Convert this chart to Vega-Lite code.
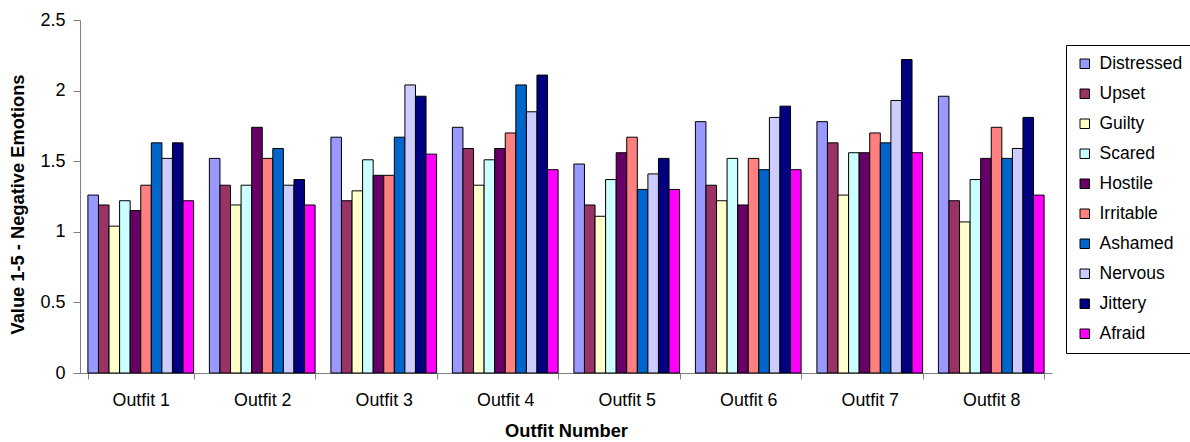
{
  "$schema": "https://vega.github.io/schema/vega-lite/v6.json",
  "autosize": {"type": "none"},
  "padding": {"left": 80, "top": 20, "right": 138, "bottom": 69},
  "width": 972,
  "height": 353,
  "background": "white",
  "config": {
    "font": "Liberation Sans",
    "view": {"stroke": null}
  },
  "data": {
    "values": [
      {"outfit": "Outfit 1", "emotion": "Distressed", "value": 1.26},
      {"outfit": "Outfit 1", "emotion": "Upset", "value": 1.19},
      {"outfit": "Outfit 1", "emotion": "Guilty", "value": 1.04},
      {"outfit": "Outfit 1", "emotion": "Scared", "value": 1.22},
      {"outfit": "Outfit 1", "emotion": "Hostile", "value": 1.15},
      {"outfit": "Outfit 1", "emotion": "Irritable", "value": 1.33},
      {"outfit": "Outfit 1", "emotion": "Ashamed", "value": 1.63},
      {"outfit": "Outfit 1", "emotion": "Nervous", "value": 1.52},
      {"outfit": "Outfit 1", "emotion": "Jittery", "value": 1.63},
      {"outfit": "Outfit 1", "emotion": "Afraid", "value": 1.22},
      {"outfit": "Outfit 2", "emotion": "Distressed", "value": 1.52},
      {"outfit": "Outfit 2", "emotion": "Upset", "value": 1.33},
      {"outfit": "Outfit 2", "emotion": "Guilty", "value": 1.19},
      {"outfit": "Outfit 2", "emotion": "Scared", "value": 1.33},
      {"outfit": "Outfit 2", "emotion": "Hostile", "value": 1.74},
      {"outfit": "Outfit 2", "emotion": "Irritable", "value": 1.52},
      {"outfit": "Outfit 2", "emotion": "Ashamed", "value": 1.59},
      {"outfit": "Outfit 2", "emotion": "Nervous", "value": 1.33},
      {"outfit": "Outfit 2", "emotion": "Jittery", "value": 1.37},
      {"outfit": "Outfit 2", "emotion": "Afraid", "value": 1.19},
      {"outfit": "Outfit 3", "emotion": "Distressed", "value": 1.67},
      {"outfit": "Outfit 3", "emotion": "Upset", "value": 1.22},
      {"outfit": "Outfit 3", "emotion": "Guilty", "value": 1.29},
      {"outfit": "Outfit 3", "emotion": "Scared", "value": 1.51},
      {"outfit": "Outfit 3", "emotion": "Hostile", "value": 1.4},
      {"outfit": "Outfit 3", "emotion": "Irritable", "value": 1.4},
      {"outfit": "Outfit 3", "emotion": "Ashamed", "value": 1.67},
      {"outfit": "Outfit 3", "emotion": "Nervous", "value": 2.04},
      {"outfit": "Outfit 3", "emotion": "Jittery", "value": 1.96},
      {"outfit": "Outfit 3", "emotion": "Afraid", "value": 1.55},
      {"outfit": "Outfit 4", "emotion": "Distressed", "value": 1.74},
      {"outfit": "Outfit 4", "emotion": "Upset", "value": 1.59},
      {"outfit": "Outfit 4", "emotion": "Guilty", "value": 1.33},
      {"outfit": "Outfit 4", "emotion": "Scared", "value": 1.51},
      {"outfit": "Outfit 4", "emotion": "Hostile", "value": 1.59},
      {"outfit": "Outfit 4", "emotion": "Irritable", "value": 1.7},
      {"outfit": "Outfit 4", "emotion": "Ashamed", "value": 2.04},
      {"outfit": "Outfit 4", "emotion": "Nervous", "value": 1.85},
      {"outfit": "Outfit 4", "emotion": "Jittery", "value": 2.11},
      {"outfit": "Outfit 4", "emotion": "Afraid", "value": 1.44},
      {"outfit": "Outfit 5", "emotion": "Distressed", "value": 1.48},
      {"outfit": "Outfit 5", "emotion": "Upset", "value": 1.19},
      {"outfit": "Outfit 5", "emotion": "Guilty", "value": 1.11},
      {"outfit": "Outfit 5", "emotion": "Scared", "value": 1.37},
      {"outfit": "Outfit 5", "emotion": "Hostile", "value": 1.56},
      {"outfit": "Outfit 5", "emotion": "Irritable", "value": 1.67},
      {"outfit": "Outfit 5", "emotion": "Ashamed", "value": 1.3},
      {"outfit": "Outfit 5", "emotion": "Nervous", "value": 1.41},
      {"outfit": "Outfit 5", "emotion": "Jittery", "value": 1.52},
      {"outfit": "Outfit 5", "emotion": "Afraid", "value": 1.3},
      {"outfit": "Outfit 6", "emotion": "Distressed", "value": 1.78},
      {"outfit": "Outfit 6", "emotion": "Upset", "value": 1.33},
      {"outfit": "Outfit 6", "emotion": "Guilty", "value": 1.22},
      {"outfit": "Outfit 6", "emotion": "Scared", "value": 1.52},
      {"outfit": "Outfit 6", "emotion": "Hostile", "value": 1.19},
      {"outfit": "Outfit 6", "emotion": "Irritable", "value": 1.52},
      {"outfit": "Outfit 6", "emotion": "Ashamed", "value": 1.44},
      {"outfit": "Outfit 6", "emotion": "Nervous", "value": 1.81},
      {"outfit": "Outfit 6", "emotion": "Jittery", "value": 1.89},
      {"outfit": "Outfit 6", "emotion": "Afraid", "value": 1.44},
      {"outfit": "Outfit 7", "emotion": "Distressed", "value": 1.78},
      {"outfit": "Outfit 7", "emotion": "Upset", "value": 1.63},
      {"outfit": "Outfit 7", "emotion": "Guilty", "value": 1.26},
      {"outfit": "Outfit 7", "emotion": "Scared", "value": 1.56},
      {"outfit": "Outfit 7", "emotion": "Hostile", "value": 1.56},
      {"outfit": "Outfit 7", "emotion": "Irritable", "value": 1.7},
      {"outfit": "Outfit 7", "emotion": "Ashamed", "value": 1.63},
      {"outfit": "Outfit 7", "emotion": "Nervous", "value": 1.93},
      {"outfit": "Outfit 7", "emotion": "Jittery", "value": 2.22},
      {"outfit": "Outfit 7", "emotion": "Afraid", "value": 1.56},
      {"outfit": "Outfit 8", "emotion": "Distressed", "value": 1.96},
      {"outfit": "Outfit 8", "emotion": "Upset", "value": 1.22},
      {"outfit": "Outfit 8", "emotion": "Guilty", "value": 1.07},
      {"outfit": "Outfit 8", "emotion": "Scared", "value": 1.37},
      {"outfit": "Outfit 8", "emotion": "Hostile", "value": 1.52},
      {"outfit": "Outfit 8", "emotion": "Irritable", "value": 1.74},
      {"outfit": "Outfit 8", "emotion": "Ashamed", "value": 1.52},
      {"outfit": "Outfit 8", "emotion": "Nervous", "value": 1.59},
      {"outfit": "Outfit 8", "emotion": "Jittery", "value": 1.81},
      {"outfit": "Outfit 8", "emotion": "Afraid", "value": 1.26}
    ]
  },
  "mark": {"type": "bar", "stroke": "black", "strokeWidth": 1},
  "encoding": {
    "x": {
      "field": "outfit",
      "type": "nominal",
      "scale": {"paddingInner": 0.13, "paddingOuter": 0.065},
      "axis": {
        "title": "Outfit Number",
        "titleFontSize": 18.3,
        "titleFontWeight": "bold",
        "titleColor": "black",
        "titlePadding": 14,
        "labelAngle": 0,
        "labelFontSize": 17.8,
        "labelColor": "black",
        "labelPadding": 12,
        "tickBand": "extent",
        "tickSize": 6,
        "tickColor": "#808080",
        "domainColor": "#808080"
      }
    },
    "xOffset": {
      "field": "emotion",
      "type": "nominal",
      "sort": ["Distressed", "Upset", "Guilty", "Scared", "Hostile", "Irritable", "Ashamed", "Nervous", "Jittery", "Afraid"],
      "scale": {"paddingInner": 0, "paddingOuter": 0}
    },
    "y": {
      "field": "value",
      "type": "quantitative",
      "scale": {"domain": [0, 2.5]},
      "axis": {
        "title": "Value 1-5 - Negative Emotions",
        "titleFontSize": 18.3,
        "titleFontWeight": "bold",
        "titleColor": "black",
        "titlePadding": 12,
        "titleY": 184,
        "values": [0, 0.5, 1, 1.5, 2, 2.5],
        "format": "~g",
        "labelFontSize": 18,
        "labelColor": "black",
        "labelPadding": 8,
        "grid": false,
        "tickSize": 7,
        "tickColor": "#808080",
        "domainColor": "#808080"
      }
    },
    "color": {
      "field": "emotion",
      "type": "nominal",
      "sort": ["Distressed", "Upset", "Guilty", "Scared", "Hostile", "Irritable", "Ashamed", "Nervous", "Jittery", "Afraid"],
      "scale": {
        "domain": ["Distressed", "Upset", "Guilty", "Scared", "Hostile", "Irritable", "Ashamed", "Nervous", "Jittery", "Afraid"],
        "range": ["#9999FF", "#993366", "#FFFFCC", "#CCFFFF", "#660066", "#FF8080", "#0066CC", "#CCCCFF", "#000080", "#FF00FF"]
      },
      "legend": {
        "title": null,
        "orient": "none",
        "legendX": 986,
        "legendY": 25,
        "strokeColor": "black",
        "padding": 10,
        "symbolType": "square",
        "symbolSize": 90,
        "symbolStrokeColor": "black",
        "symbolStrokeWidth": 1,
        "symbolOpacity": 1,
        "labelFontSize": 17.5,
        "labelColor": "black",
        "labelOffset": 6,
        "rowPadding": 11
      }
    }
  }
}
